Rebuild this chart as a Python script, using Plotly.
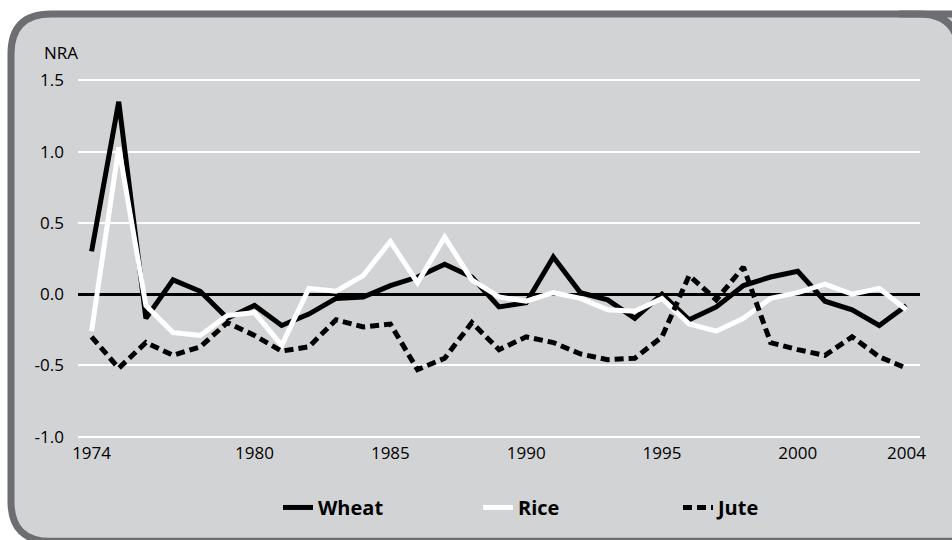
import plotly.graph_objects as go

years = list(range(1974, 2005))
wheat = [0.30, 1.35, -0.17, 0.10, 0.02, -0.17, -0.08, -0.22, -0.14, -0.03, -0.02, 0.06, 0.12, 0.21, 0.12,
         -0.09, -0.06, 0.26, 0.01, -0.04, -0.17, 0.00, -0.18, -0.09, 0.06, 0.12, 0.16, -0.05, -0.11, -0.22, -0.08]
rice = [-0.26, 1.03, -0.08, -0.27, -0.29, -0.15, -0.13, -0.36, 0.04, 0.02, 0.13, 0.37, 0.08, 0.40, 0.10,
        -0.02, -0.05, 0.01, -0.03, -0.11, -0.12, -0.03, -0.21, -0.26, -0.17, -0.03, 0.01, 0.07, 0.00, 0.04, -0.11]
jute = [-0.30, -0.52, -0.34, -0.43, -0.37, -0.20, -0.29, -0.40, -0.37, -0.18, -0.23, -0.21, -0.53, -0.45, -0.20,
        -0.39, -0.30, -0.34, -0.42, -0.46, -0.45, -0.30, 0.13, -0.04, 0.19, -0.34, -0.39, -0.43, -0.30, -0.44, -0.52]

x_tick_vals = [1974, 1980, 1985, 1990, 1995, 2000, 2004]
x_tick_text = ["1974", "1980", "1985", "1990", "1995", "2000", "2004"]
y_tick_vals = [-1.0, -0.5, 0.0, 0.5, 1.0, 1.5]
y_tick_text = ["-1.0", "-0.5", "0.0", "0.5", "1.0", "1.5"]

W, H = 952, 540
ML, MR = 78, 32
MT, MB = 78.6, 101.6
PW, PH = W - ML - MR, H - MT - MB

def px(xp):
    return (xp - ML) / PW

def py(yp):
    return (H - MB - yp) / PH

BG = "#d2d3d5"
FRAME = "#6d6e71"
FONT = "Open Sans"

fig = go.Figure()
fig.add_trace(go.Scatter(x=years, y=wheat, name="Wheat", mode="lines",
                         line=dict(color="black", width=5)))
fig.add_trace(go.Scatter(x=years, y=rice, name="Rice", mode="lines",
                         line=dict(color="white", width=5)))
fig.add_trace(go.Scatter(x=years, y=jute, name="Jute", mode="lines",
                         line=dict(color="black", width=5, dash="9px,5px")))

# rounded frame: left/top sides with rounded corners, right corner cut by the page edge
x0, y0, x1, y1, r = 11, 13.5, 990, 542, 40
def P(a, b):
    return f"{px(a):.5f},{py(b):.5f}"
path = (f"M {P(x0 + r, y0)} L {P(x1 - r, y0)} Q {P(x1, y0)} {P(x1, y0 + r)} "
        f"L {P(x1, y1 - r)} Q {P(x1, y1)} {P(x1 - r, y1)} "
        f"L {P(x0 + r, y1)} Q {P(x0, y1)} {P(x0, y1 - r)} "
        f"L {P(x0, y0 + r)} Q {P(x0, y0)} {P(x0 + r, y0)} Z")
# top-right corner arc, visible only at the very edge of the page
xc, rc = 959, 40
arc = f"M {P(xc - rc - 20, y0)} L {P(xc - rc, y0)} Q {P(xc, y0)} {P(xc, y0 + rc)} L {P(xc, y1)}"

fig.update_layout(
    width=W, height=H,
    margin=dict(l=ML, r=MR, t=MT, b=MB, autoexpand=False),
    paper_bgcolor="white",
    plot_bgcolor="rgba(0,0,0,0)",
    font=dict(family=FONT, size=17, color="black"),
    shapes=[dict(type="path", xref="paper", yref="paper", path=path,
                 fillcolor=BG, line=dict(color=FRAME, width=7), layer="below"),
            dict(type="path", xref="paper", yref="paper", path=arc,
                 line=dict(color=FRAME, width=7), layer="below")],
    annotations=[dict(text="NRA", xref="paper", yref="paper", x=px(42), y=py(52),
                      xanchor="left", yanchor="middle", showarrow=False,
                      font=dict(family=FONT, size=17, color="black"))],
    xaxis=dict(range=[1973.5, 2004.5], tickmode="array", tickvals=x_tick_vals,
               ticktext=x_tick_text, showgrid=False, zeroline=False, showline=False,
               ticks="", ticklabelstandoff=3, tickfont=dict(size=17)),
    yaxis=dict(range=[-1.01, 1.51], tickmode="array", tickvals=y_tick_vals,
               ticktext=y_tick_text, showgrid=True, gridcolor="white", gridwidth=2,
               zeroline=True, zerolinecolor="black", zerolinewidth=2.5,
               showline=False, ticks="", ticklabelstandoff=13, tickfont=dict(size=17)),
    showlegend=True,
    legend=dict(orientation="h", x=px(278), y=py(508), xanchor="left", yanchor="middle",
                bgcolor="rgba(0,0,0,0)", font=dict(family=FONT, size=20, color="black", weight="bold"),
                entrywidth=155, entrywidthmode="pixels", traceorder="normal"),
)

fig.write_html("out.html", config={"displayModeBar": False},
               post_script=("document.body.style.margin='0';document.body.style.overflow='hidden';"
                            "document.documentElement.style.overflow='hidden';"))
